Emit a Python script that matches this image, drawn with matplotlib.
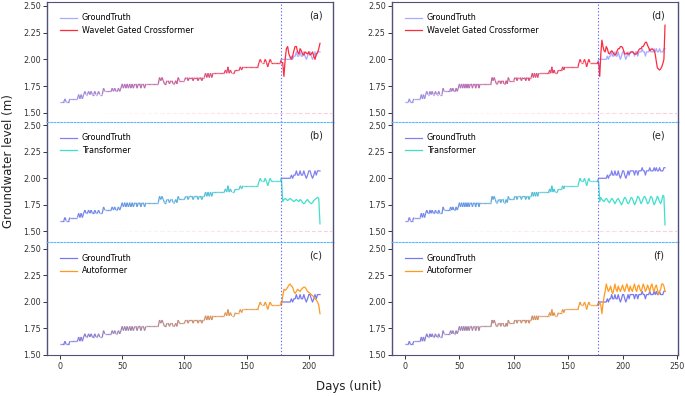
import numpy as np
import matplotlib.pyplot as plt
from matplotlib.collections import LineCollection
from matplotlib.colors import to_rgba

# ground truth (days 0..239)
gt = [1.60, 1.60, 1.60, 1.60, 1.63, 1.60, 1.60, 1.60, 1.63, 1.63,
      1.63, 1.63, 1.63, 1.63, 1.63, 1.67, 1.63, 1.67, 1.63, 1.67,
      1.70, 1.67, 1.67, 1.70, 1.67, 1.70, 1.67, 1.67, 1.70, 1.67,
      1.67, 1.70, 1.67, 1.67, 1.67, 1.73, 1.70, 1.70, 1.70, 1.70,
      1.70, 1.70, 1.73, 1.70, 1.73, 1.70, 1.70, 1.73, 1.70, 1.73,
      1.77, 1.73, 1.77, 1.73, 1.77, 1.73, 1.77, 1.73, 1.77, 1.73,
      1.77, 1.77, 1.73, 1.77, 1.77, 1.73, 1.77, 1.77, 1.73, 1.77,
      1.77, 1.77, 1.77, 1.77, 1.77, 1.77, 1.77, 1.77, 1.77, 1.77,
      1.83, 1.80, 1.83, 1.80, 1.77, 1.77, 1.80, 1.80, 1.77, 1.80,
      1.80, 1.77, 1.77, 1.80, 1.77, 1.83, 1.80, 1.80, 1.80, 1.80,
      1.80, 1.83, 1.83, 1.80, 1.83, 1.83, 1.83, 1.80, 1.83, 1.83,
      1.83, 1.80, 1.83, 1.83, 1.80, 1.83, 1.83, 1.87, 1.83, 1.87,
      1.83, 1.87, 1.83, 1.87, 1.87, 1.87, 1.87, 1.87, 1.87, 1.87,
      1.87, 1.87, 1.87, 1.90, 1.87, 1.93, 1.87, 1.90, 1.87, 1.87,
      1.87, 1.90, 1.90, 1.90, 1.90, 1.93, 1.90, 1.93, 1.93, 1.93,
      1.93, 1.93, 1.93, 1.93, 1.93, 1.93, 1.93, 1.93, 1.93, 1.93,
      1.97, 2.00, 1.97, 1.97, 1.97, 2.00, 1.97, 1.93, 1.97, 2.00,
      1.97, 1.97, 1.97, 1.97, 1.97, 1.97, 1.97, 1.97, 2.00, 2.00,
      2.00, 2.00, 2.00, 2.00, 2.00, 2.00, 2.03, 2.00, 2.03, 2.03,
      2.07, 2.03, 2.03, 2.07, 2.03, 2.03, 2.07, 2.03, 2.00, 2.03,
      2.07, 2.07, 2.03, 2.00, 2.03, 2.07, 2.03, 2.07, 2.07, 2.07,
      2.07, 2.03, 2.07, 2.07, 2.03, 2.07, 2.07, 2.07, 2.10, 2.07,
      2.07, 2.03, 2.07, 2.07, 2.07, 2.10, 2.07, 2.07, 2.07, 2.10,
      2.07, 2.10, 2.07, 2.07, 2.10, 2.07, 2.07, 2.07, 2.10, 2.10]

split_left = 178
split_right = 177

# predictions, left column (days 178..209)
wgc_left = [1.97, 1.97, 1.84, 2.00, 2.10, 2.12, 2.05, 2.02, 2.00, 2.03,
            2.08, 2.12, 2.12, 2.07, 2.05, 2.10, 2.08, 2.05, 2.04, 2.07,
            2.06, 2.05, 2.07, 2.04, 2.05, 2.07, 2.03, 2.00, 2.05, 2.06,
            2.10, 2.15]
trf_left = [2.00, 1.78, 1.80, 1.81, 1.80, 1.79, 1.80, 1.81, 1.80, 1.79,
            1.78, 1.79, 1.80, 1.79, 1.78, 1.80, 1.79, 1.77, 1.76, 1.77,
            1.79, 1.80, 1.78, 1.77, 1.76, 1.77, 1.79, 1.80, 1.81, 1.82,
            1.81, 1.57]
auto_left = [1.97, 2.05, 2.12, 2.11, 2.12, 2.14, 2.16, 2.17, 2.15, 2.14,
             2.10, 2.08, 2.10, 2.12, 2.11, 2.10, 2.12, 2.13, 2.14, 2.14,
             2.12, 2.10, 2.09, 2.08, 2.07, 2.06, 2.05, 2.03, 2.02, 2.00,
             1.97, 1.89]

# predictions, right column (days 177..239)
wgc_right = [1.97, 1.97, 1.84, 2.05, 2.18, 2.12, 2.08, 2.07, 2.12, 2.10,
             2.06, 2.05, 2.07, 2.08, 2.07, 2.05, 2.04, 2.05, 2.08, 2.10,
             2.10, 2.12, 2.12, 2.11, 2.08, 2.05, 2.05, 2.06, 2.05, 2.05,
             2.06, 2.07, 2.07, 2.06, 2.05, 2.05, 2.05, 2.07, 2.09, 2.10,
             2.10, 2.12, 2.12, 2.14, 2.16, 2.16, 2.13, 2.11, 2.08, 2.09,
             2.10, 2.09, 2.08, 2.05, 1.98, 1.92, 1.91, 1.90, 1.91, 1.93,
             1.96, 2.00, 2.32]
trf_right = [1.97, 1.97, 1.78, 1.82, 1.80, 1.79, 1.78, 1.80, 1.81, 1.80,
             1.78, 1.77, 1.79, 1.81, 1.80, 1.78, 1.76, 1.78, 1.80, 1.81,
             1.79, 1.77, 1.75, 1.77, 1.80, 1.82, 1.81, 1.78, 1.76, 1.77,
             1.80, 1.82, 1.81, 1.78, 1.75, 1.77, 1.80, 1.83, 1.82, 1.79,
             1.76, 1.78, 1.81, 1.83, 1.82, 1.79, 1.76, 1.77, 1.80, 1.83,
             1.82, 1.78, 1.75, 1.77, 1.80, 1.83, 1.81, 1.78, 1.76, 1.79,
             1.84, 1.83, 1.56]
auto_right = [1.97, 1.97, 2.00, 1.97, 1.89, 1.98, 2.05, 2.10, 2.17, 2.13,
              2.10, 2.12, 2.15, 2.10, 2.08, 2.12, 2.17, 2.12, 2.10, 2.15,
              2.12, 2.10, 2.13, 2.16, 2.12, 2.10, 2.14, 2.17, 2.13, 2.10,
              2.15, 2.12, 2.10, 2.14, 2.17, 2.12, 2.10, 2.15, 2.16, 2.12,
              2.10, 2.13, 2.17, 2.14, 2.10, 2.12, 2.16, 2.13, 2.10, 2.15,
              2.17, 2.12, 2.10, 2.14, 2.16, 2.12, 2.07, 2.10, 2.12, 2.17,
              2.17, 2.15, 2.10]

model_names = ['Wavelet Gated Crossformer', 'Transformer', 'Autoformer']
model_colors = ['#ff2a3c', '#3ee0cc', '#ff9a1f']
gt_colors = ['#aaaaff', '#8080f0', '#7878ee']
gt_start = ['#9292f0', '#7878ee', '#7878ee']
panel_tags = [['(a)', '(b)', '(c)'], ['(d)', '(e)', '(f)']]
ylims = [(1.416, 2.540), (1.399, 2.534), (1.50, 2.566)]

spine_col = '#50507a'
tick_col = '#333333'
fs_tick = 5.8

fig = plt.figure(figsize=(6.85, 3.96), dpi=100)

col_x = [47 / 685, 392 / 685]
col_w = 286 / 685
row_px = [(1.7, 121.7), (121.7, 242), (242, 355)]
tag_x = [0.9406, 0.931]


def gradient_line(ax, x, y, c0, c1, lw=0.9):
    pts = np.column_stack([x, y])
    segs = np.stack([pts[:-1], pts[1:]], axis=1)
    t = np.linspace(0, 1, len(segs))
    a = np.array(to_rgba(c0))
    b = np.array(to_rgba(c1))
    cols = a[None, :] * (1 - t[:, None]) + b[None, :] * t[:, None]
    ax.add_collection(LineCollection(segs, colors=cols, linewidths=lw))


def fading_hline(ax, y, x0, x1, color):
    xs = np.linspace(x0, x1, 40)
    segs = [[(xs[i], y), (xs[i + 1], y)] for i in range(len(xs) - 1)]
    base = np.array(to_rgba(color))
    cols = np.tile(base, (len(segs), 1))
    cols[:, 3] = np.linspace(0.0, 0.45, len(segs))
    ax.add_collection(LineCollection(segs, colors=cols, linewidths=0.8,
                                     linestyles=(0, (2, 2))))


for col in range(2):
    n = 210 if col == 0 else 240
    split = split_left if col == 0 else split_right
    preds = [wgc_left, trf_left, auto_left] if col == 0 else [wgc_right, trf_right, auto_right]
    days = np.arange(n)
    g = np.array(gt[:n])
    for row in range(3):
        top, bot = row_px[row]
        h = bot - top
        ax = fig.add_axes([col_x[col], 1 - bot / 396, col_w, h / 396])
        mc = model_colors[row]
        gc = gt_colors[row]

        # history: colour blends from ground truth to model colour
        gradient_line(ax, days[:split + 1], g[:split + 1], gt_start[row], mc)
        # forecast window
        ax.plot(days[split:], g[split:], color=gc, lw=0.9)
        p = preds[row]
        ax.plot(np.arange(split, split + len(p)), p, color=mc, lw=0.9)

        if row < 2:
            fading_hline(ax, 1.5, 0.1 * n, n * 1.04, '#f08cb4')
        ax.axvline(split, color='#6464ff', lw=0.8, ls=(0, (1.2, 1.8)))

        ax.set_xlim(-0.05 * (n - 1), (n - 1) * 1.05)
        ax.set_ylim(*ylims[row])
        ax.set_yticks([1.50, 1.75, 2.00, 2.25, 2.50])
        ax.set_yticklabels(['1.50', '1.75', '2.00', '2.25', '2.50'])
        ax.tick_params(axis='y', labelsize=fs_tick, colors=tick_col, length=3,
                       width=0.7, pad=1.5)
        for s in ['left', 'right']:
            ax.spines[s].set_color(spine_col)
            ax.spines[s].set_linewidth(1.0)
        if row == 0:
            ax.spines['top'].set_color(spine_col)
        else:
            ax.spines['top'].set_color('#5cb8ff')
            ax.spines['top'].set_linestyle((0, (1.5, 1.5)))
            ax.spines['top'].set_linewidth(0.8)
        if row == 2:
            ax.spines['bottom'].set_color(spine_col)
            ax.set_xticks(np.arange(0, 201 if col == 0 else 251, 50))
            ax.tick_params(axis='x', labelsize=fs_tick, colors=tick_col, length=3,
                           width=0.7, pad=2)
        else:
            ax.spines['bottom'].set_visible(False)
            ax.set_xticks([])

        h1, = ax.plot([], [], color=gc, lw=0.9, label='GroundTruth')
        h2, = ax.plot([], [], color=mc, lw=0.9, label=model_names[row])
        ax.legend(handles=[h1, h2], loc='upper left', frameon=False, fontsize=5.8,
                  handlelength=2.1, handletextpad=0.6, borderaxespad=0,
                  labelspacing=0.45, bbox_to_anchor=(0.034, 1 - 8.5 / h))
        ax.text(tag_x[col], 1 - 13.8 / h, panel_tags[col][row], transform=ax.transAxes,
                ha='center', va='center', fontsize=7, color='#222222')

fig.text(0.012, 0.593, 'Groundwater level (m)', rotation=90, ha='center', va='center',
         fontsize=8.5, color='#222222')
fig.text(0.509, 0.023, 'Days (unit)', ha='center', va='center', fontsize=8.5,
         color='#222222')

fig.savefig('out.png', dpi=100)
